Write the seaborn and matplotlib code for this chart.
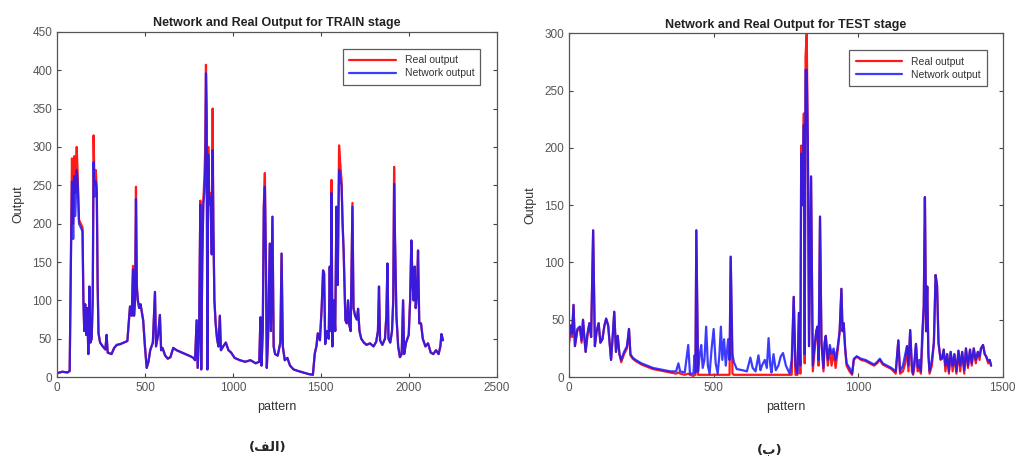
import matplotlib
matplotlib.use("Agg")
import matplotlib.pyplot as plt
import seaborn as sns
import pandas as pd

# ---------------- data ----------------
train_x = [0, 30, 60, 72, 80, 85, 92, 98, 104, 112, 118, 125, 135, 145, 150, 155, 160, 166, 172, 178,
           184, 190, 197, 203, 208, 213, 220, 226, 231, 236, 245, 260, 275, 282, 288, 310, 325, 340, 360, 380,
           400, 415, 425, 432, 438, 444, 449, 454, 460, 467, 475, 490, 500, 510, 520, 530, 545, 557, 563, 575,
           585, 592, 600, 615, 630, 645, 661, 680, 700, 720, 740, 760, 775, 785, 794, 800, 808, 815, 820, 826,
           832, 838, 843, 847, 851, 855, 860, 866, 873, 880, 885, 889, 895, 902, 910, 918, 926, 932, 945, 960,
           975, 990, 1010, 1040, 1070, 1100, 1130, 1150, 1157, 1163, 1170, 1176, 1182, 1188, 1193, 1200, 1210, 1216, 1225, 1232,
           1240, 1255, 1270, 1277, 1284, 1295, 1310, 1325, 1345, 1370, 1400, 1430, 1455, 1466, 1475, 1483, 1495, 1505, 1513, 1519,
           1525, 1535, 1545, 1551, 1556, 1561, 1566, 1575, 1582, 1589, 1596, 1604, 1610, 1618, 1624, 1630, 1640, 1648, 1655, 1662,
           1670, 1680, 1686, 1695, 1705, 1712, 1720, 1730, 1745, 1760, 1780, 1800, 1815, 1825, 1831, 1837, 1850, 1865, 1873, 1879,
           1885, 1895, 1905, 1912, 1917, 1922, 1930, 1940, 1950, 1960, 1968, 1974, 1985, 2000, 2008, 2015, 2022, 2028, 2034, 2040,
           2047, 2053, 2060, 2070, 2080, 2095, 2110, 2125, 2140, 2155, 2170, 2180, 2186, 2195]
train_real = [5, 7, 6, 8, 180, 285, 200, 288, 240, 300, 260, 205, 200, 195, 100, 60, 95, 55, 90, 30,
              118, 45, 50, 100, 315, 250, 270, 248, 120, 57, 45, 40, 36, 55, 32, 30, 38, 42, 43, 45,
              47, 92, 80, 145, 80, 100, 248, 120, 100, 90, 95, 74, 40, 12, 20, 35, 45, 111, 40, 55,
              81, 35, 38, 28, 24, 26, 38, 35, 33, 31, 29, 27, 25, 22, 74, 12, 60, 230, 10, 150,
              230, 260, 300, 407, 350, 10, 300, 230, 240, 160, 350, 200, 100, 70, 50, 40, 80, 35, 40, 45,
              35, 32, 25, 22, 20, 22, 18, 20, 78, 15, 60, 225, 266, 150, 12, 50, 174, 60, 209, 40,
              30, 28, 45, 161, 40, 22, 25, 15, 10, 8, 6, 4, 3, 31, 40, 57, 48, 90, 139, 135,
              43, 60, 50, 144, 60, 257, 40, 100, 60, 222, 120, 302, 280, 257, 200, 164, 74, 70, 100, 68,
              60, 227, 90, 80, 75, 89, 60, 50, 45, 42, 44, 40, 46, 60, 118, 48, 42, 50, 80, 148,
              50, 45, 60, 100, 274, 180, 80, 40, 26, 30, 100, 30, 45, 55, 100, 178, 120, 100, 144, 90,
              110, 165, 70, 70, 50, 40, 44, 32, 30, 35, 30, 40, 56, 48]
train_net = [5, 7, 6, 8, 170, 255, 180, 262, 210, 270, 250, 200, 195, 190, 100, 60, 95, 55, 90, 30,
             118, 45, 50, 100, 280, 235, 255, 240, 120, 57, 45, 40, 36, 55, 32, 30, 38, 42, 43, 45,
             47, 92, 80, 140, 80, 100, 232, 115, 100, 90, 95, 74, 40, 12, 20, 35, 45, 111, 40, 55,
             81, 35, 38, 28, 24, 26, 38, 35, 33, 31, 29, 27, 25, 22, 74, 12, 60, 225, 10, 150,
             225, 240, 270, 396, 330, 10, 290, 225, 235, 160, 296, 200, 100, 70, 50, 40, 80, 35, 40, 45,
             35, 32, 25, 22, 20, 22, 18, 20, 78, 15, 60, 220, 248, 150, 12, 50, 174, 60, 209, 40,
             30, 28, 45, 161, 40, 22, 25, 15, 10, 8, 6, 4, 3, 31, 40, 57, 48, 90, 139, 135,
             43, 60, 50, 144, 60, 240, 40, 100, 60, 222, 120, 270, 260, 250, 200, 164, 74, 70, 100, 68,
             60, 222, 90, 80, 75, 89, 60, 50, 45, 42, 44, 40, 46, 60, 118, 48, 42, 50, 80, 148,
             50, 45, 60, 100, 252, 180, 80, 40, 26, 30, 100, 30, 45, 55, 100, 178, 120, 100, 144, 90,
             110, 165, 70, 70, 50, 40, 44, 32, 30, 35, 30, 40, 56, 48]

test_x = [0, 5, 10, 15, 20, 28, 37, 43, 48, 52, 57, 63, 70, 76, 83, 89, 95, 102, 108, 115,
          122, 128, 135, 140, 145, 150, 156, 162, 168, 174, 180, 190, 200, 207, 212, 220, 230, 250, 270, 290,
          310, 330, 350, 370, 378, 384, 400, 412, 418, 430, 434, 437, 440, 446, 452, 457, 462, 468, 474, 480,
          486, 493, 500, 507, 514, 520, 525, 530, 536, 542, 550, 555, 559, 565, 570, 580, 600, 615, 627, 635,
          645, 655, 662, 667, 677, 684, 690, 696, 700, 707, 715, 724, 732, 740, 750, 763, 770, 777, 783, 790,
          795, 800, 803, 808, 812, 815, 818, 822, 826, 830, 837, 843, 850, 855, 859, 863, 868, 873, 880, 884,
          888, 895, 902, 908, 915, 922, 930, 936, 942, 946, 950, 955, 960, 970, 979, 985, 995, 1010, 1025, 1040,
          1055, 1065, 1075, 1085, 1100, 1115, 1130, 1139, 1145, 1155, 1163, 1169, 1174, 1180, 1186, 1190, 1195, 1200, 1206, 1212,
          1217, 1222, 1227, 1231, 1235, 1239, 1243, 1247, 1255, 1262, 1268, 1273, 1278, 1285, 1290, 1296, 1302, 1308, 1314, 1320,
          1327, 1333, 1340, 1347, 1353, 1360, 1367, 1373, 1380, 1387, 1393, 1400, 1407, 1414, 1420, 1425, 1432, 1438, 1443, 1450,
          1455, 1460]
test_real = [30, 45, 35, 63, 27, 40, 44, 30, 50, 35, 22, 35, 47, 35, 128, 27, 40, 47, 30, 33,
             45, 51, 45, 30, 15, 33, 57, 22, 36, 20, 13, 20, 25, 42, 19, 16, 14, 11, 9, 7,
             6, 5, 4, 3, 4, 3, 2, 3, 2, 1, 2, 2, 128, 2, 2, 2, 2, 2, 2, 2,
             2, 2, 2, 2, 2, 2, 2, 2, 2, 2, 2, 2, 105, 3, 2, 2, 2, 2, 2, 2,
             2, 2, 2, 2, 2, 2, 2, 2, 2, 2, 2, 2, 2, 2, 2, 2, 2, 70, 2, 2,
             56, 3, 202, 150, 230, 12, 280, 300, 200, 27, 175, 5, 25, 40, 44, 10, 140, 30, 5, 30,
             36, 10, 25, 10, 22, 8, 25, 40, 77, 40, 47, 25, 10, 5, 2, 15, 18, 15, 14, 12,
             10, 12, 15, 11, 9, 7, 3, 32, 3, 5, 12, 27, 5, 41, 5, 2, 10, 29, 5, 10,
             3, 30, 62, 157, 40, 79, 20, 3, 10, 30, 89, 80, 30, 15, 16, 24, 5, 20, 3, 22,
             5, 20, 3, 23, 5, 22, 3, 25, 8, 24, 10, 25, 12, 22, 15, 25, 28, 20, 18, 12,
             15, 10]
test_net = [32, 45, 38, 63, 27, 42, 44, 32, 50, 38, 22, 38, 47, 35, 128, 27, 40, 47, 30, 33,
            45, 51, 45, 30, 15, 33, 57, 22, 36, 20, 15, 22, 27, 42, 20, 17, 15, 12, 10, 8,
            7, 6, 5, 5, 12, 5, 4, 28, 3, 3, 19, 4, 128, 5, 20, 28, 8, 15, 44, 10,
            3, 25, 42, 12, 3, 20, 44, 15, 33, 10, 33, 15, 105, 20, 13, 7, 6, 5, 17, 8,
            5, 19, 6, 10, 15, 8, 34, 10, 4, 20, 6, 10, 18, 21, 10, 3, 15, 70, 10, 3,
            56, 10, 195, 150, 220, 20, 268, 268, 200, 27, 175, 10, 30, 40, 44, 15, 140, 30, 8, 30,
            36, 15, 28, 20, 25, 15, 28, 40, 77, 40, 47, 25, 12, 8, 3, 16, 18, 16, 15, 13,
            11, 13, 16, 12, 10, 8, 5, 32, 5, 10, 20, 27, 10, 41, 10, 3, 15, 29, 8, 15,
            5, 40, 62, 157, 40, 79, 20, 5, 15, 30, 89, 80, 30, 16, 16, 24, 10, 20, 5, 22,
            10, 20, 5, 23, 10, 22, 6, 25, 10, 24, 12, 25, 15, 22, 18, 25, 28, 20, 18, 14,
            15, 10]

panels = [
    ("Network and Real Output for TRAIN stage", train_x, train_real, train_net, 2500, 450, 500, 50),
    ("Network and Real Output for TEST stage", test_x, test_real, test_net, 1500, 300, 500, 50),
]
# Arabic panel tags, written in visual (left-to-right) order with contextual letter forms
panel_tags = ["(\uFED2\uFEDF\uFE8D)", "(\u0628)"]

# ---------------- figure ----------------
sns.set_theme(style="white")
plt.rcParams["font.family"] = ["Liberation Sans", "DejaVu Sans"]

fig = plt.figure(figsize=(10.2, 4.61), dpi=100)
rects = [[0.0559, 0.182, 0.431, 0.749], [0.558, 0.182, 0.425, 0.746]]
tick_col = "#555555"

for rect, (title, xs, real, net, xmax, ymax, xstep, ystep) in zip(rects, panels):
    ax = fig.add_axes(rect)
    sns.lineplot(x=xs, y=real, ax=ax, color="#ff1a1a", lw=1.6, label="Real output",
                 estimator=None, sort=False)
    sns.lineplot(x=xs, y=net, ax=ax, color="#1a1aff", lw=1.6, alpha=0.85,
                 label="Network output", estimator=None, sort=False)
    ax.set_xlim(0, xmax)
    ax.set_ylim(0, ymax)
    ax.set_xticks(range(0, xmax + 1, xstep))
    ax.set_yticks(range(0, ymax + 1, ystep))
    ax.tick_params(direction="in", length=3, width=0.8, colors="#444444",
                   labelcolor=tick_col, labelsize=8.5, top=True, right=True,
                   bottom=True, left=True)
    for s in ax.spines.values():
        s.set_color("#555555")
        s.set_linewidth(0.9)
    ax.set_title(title, fontsize=9, fontweight="bold", color="#222222", pad=4)
    ax.set_xlabel("pattern", fontsize=9, color="#333333", labelpad=5)
    ax.set_ylabel("Output", fontsize=9, color="#333333", labelpad=6)
    leg = ax.legend(loc="upper right", fontsize=7.5, frameon=True, fancybox=False,
                    handlelength=4.5, borderpad=0.6, labelspacing=0.3,
                    bbox_to_anchor=(0.975, 0.965))
    leg.get_frame().set_edgecolor("#333333")
    leg.get_frame().set_linewidth(0.9)
    for t in leg.get_texts():
        t.set_color("#333333")

fig.text(0.262, 0.03, panel_tags[0], ha="center", va="center", fontsize=9.5,
         fontweight="bold", family=["DejaVu Sans"])
fig.text(0.755, 0.025, panel_tags[1], ha="center", va="center", fontsize=9.5,
         fontweight="bold", family=["DejaVu Sans"])

fig.savefig("out.png", dpi=100, facecolor="white")
